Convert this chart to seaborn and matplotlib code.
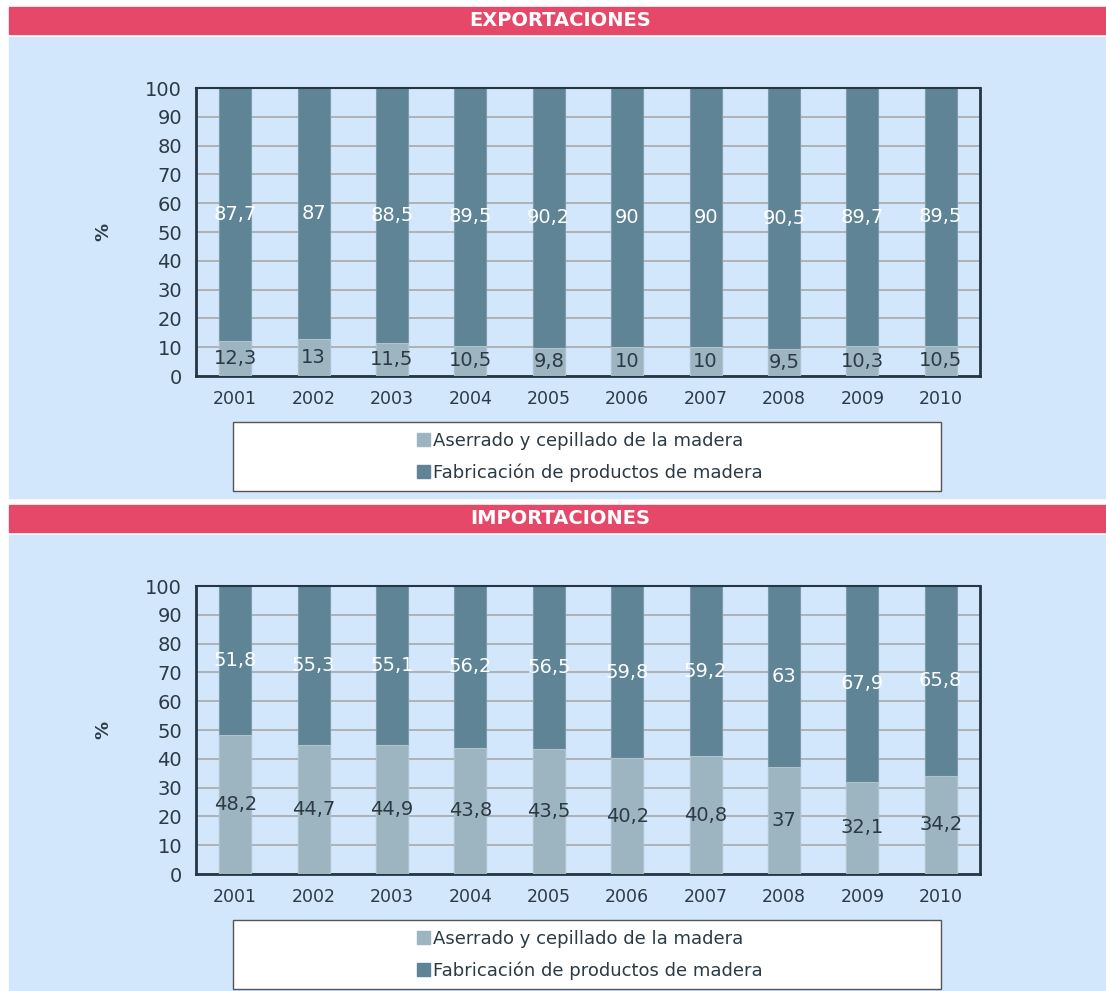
import matplotlib
matplotlib.use("Agg")
import matplotlib.pyplot as plt
import seaborn as sns
import pandas as pd
from matplotlib.patches import Rectangle, Patch

sns.set_style("white")
plt.rcParams["font.family"] = ["DejaVu Sans"]

years = ["2001", "2002", "2003", "2004", "2005", "2006", "2007", "2008", "2009", "2010"]
exp_aserrado = [12.3, 13, 11.5, 10.5, 9.8, 10, 10, 9.5, 10.3, 10.5]
exp_fabricacion = [87.7, 87, 88.5, 89.5, 90.2, 90, 90, 90.5, 89.7, 89.5]
imp_aserrado = [48.2, 44.7, 44.9, 43.8, 43.5, 40.2, 40.8, 37, 32.1, 34.2]
imp_fabricacion = [51.8, 55.3, 55.1, 56.2, 56.5, 59.8, 59.2, 63, 67.9, 65.8]
serie_names = ["Aserrado y cepillado de la madera", "Fabricación de productos de madera"]
titles = ["EXPORTACIONES", "IMPORTACIONES"]

LIGHT = "#9db5c1"
DARK = "#5e8496"
PANEL = "#d2e6fc"
RED = "#e54868"
TXT = "#2b3a45"

W, H = 1106, 991
fig = plt.figure(figsize=(W / 100, H / 100), dpi=100)
fig.patch.set_facecolor("white")


def fx(px):
    return px / W


def fy(py):
    return 1 - py / H


def fmt(v):
    return ("%g" % v).replace(".", ",")


def draw_panel(top, title, light, dark):
    # header bar + light blue panel (behind the axes)
    fig.patches.append(Rectangle((fx(9), fy(top + 27)), fx(1106 - 9), 27 / H,
                                 transform=fig.transFigure, color=RED, zorder=-2))
    fig.text(fx(560), fy(top + 14), title, color="white", fontsize=14,
             fontweight="bold", ha="center", va="center")
    fig.patches.append(Rectangle((fx(9), fy(top + 491)), fx(1106 - 9), 461 / H,
                                 transform=fig.transFigure, color=PANEL, zorder=-2))

    df = pd.DataFrame({"year": years, "light": light, "dark": dark})
    df["total"] = df["light"] + df["dark"]

    ax = fig.add_axes([fx(196), fy(top + 369), fx(980 - 196), 288 / H])
    ax.set_facecolor(PANEL)
    sns.barplot(data=df, x="year", y="total", color=DARK, width=0.41,
                saturation=1, ax=ax, zorder=2, edgecolor="#7d9aa8", linewidth=0.8)
    sns.barplot(data=df, x="year", y="light", color=LIGHT, width=0.41,
                saturation=1, ax=ax, zorder=3, edgecolor="#aec3cd", linewidth=0.8)

    for i, row in df.iterrows():
        ax.text(i, row["light"] / 2, fmt(row["light"]), ha="center", va="center",
                color=TXT, fontsize=14, zorder=4)
        ax.text(i, row["light"] + row["dark"] / 2, fmt(row["dark"]), ha="center",
                va="center", color="white", fontsize=14, zorder=4)

    ax.set_ylim(0, 100)
    ax.set_xlim(-0.5, 9.5)
    ax.set_yticks(range(0, 101, 10))
    ax.yaxis.grid(True, color="#a8a8a8", linewidth=1.2, zorder=0)
    ax.set_axisbelow(True)
    for s in ax.spines.values():
        s.set_visible(True)
        s.set_color("#253645")
        s.set_linewidth(2)
    ax.spines["top"].set_linewidth(1.5)
    ax.set_xticks([x - 0.5 for x in range(11)], minor=True)
    ax.tick_params(axis="x", which="minor", length=6, width=2, color="#253645")
    ax.tick_params(axis="x", which="major", length=0, labelsize=12.5,
                   labelcolor=TXT, pad=10)
    ax.tick_params(axis="y", length=6, width=2, color="#253645",
                   labelsize=14, labelcolor=TXT, pad=4)
    ax.set_xlabel("")
    ax.set_ylabel("%", fontsize=13, fontweight="bold", color=TXT, labelpad=24)

    # legend box
    fig.patches.append(Rectangle((fx(233), fy(top + 484)), fx(941 - 233), 69 / H,
                                 transform=fig.transFigure, facecolor="white",
                                 edgecolor="#555555", linewidth=1, zorder=-1))
    handles = [Patch(color=LIGHT), Patch(color=DARK)]
    fig.legend(handles, serie_names, loc="center",
               bbox_to_anchor=(fx(590), fy(top + 450)), frameon=False,
               fontsize=13, handlelength=0.7, handleheight=0.7,
               handletextpad=0.2, labelspacing=0.75, labelcolor=TXT)


draw_panel(7, titles[0], exp_aserrado, exp_fabricacion)
draw_panel(505, titles[1], imp_aserrado, imp_fabricacion)

fig.savefig("out.png", dpi=100)
